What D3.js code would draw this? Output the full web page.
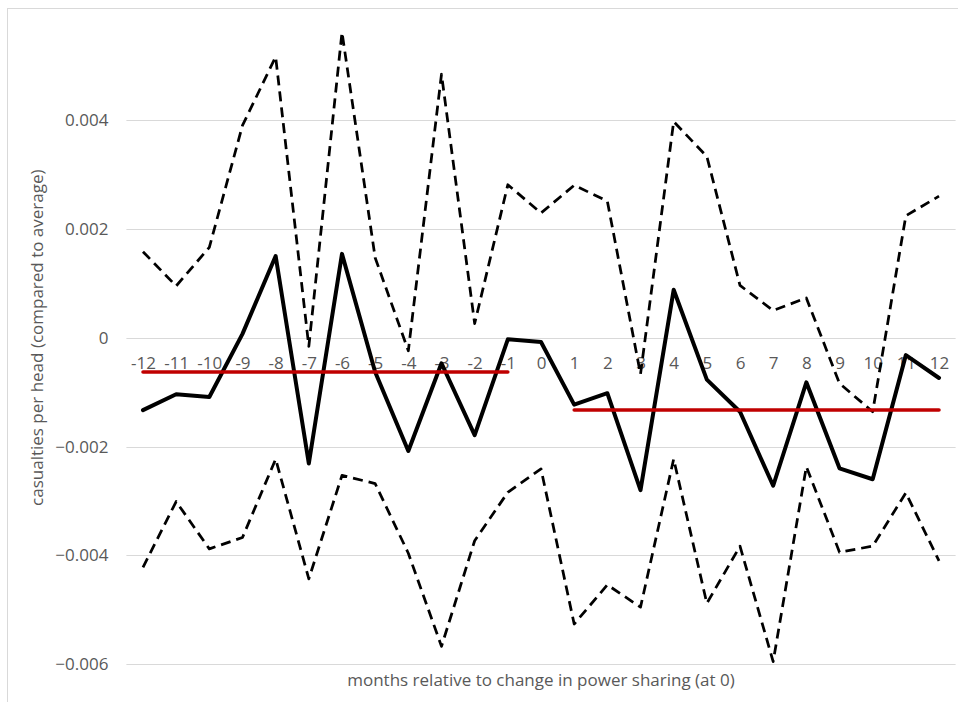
<!DOCTYPE html>
<html>
<head>
<meta charset="utf-8">
<script src="https://cdn.jsdelivr.net/npm/d3@7"></script>
<style>
  html, body { margin: 0; padding: 0; background: #ffffff; }
  svg { display: block; }
  text { font-family: "Open Sans", Lato, sans-serif; fill: #595959; }
</style>
</head>
<body>
<svg id="chart" width="958" height="702"></svg>
<script>
// Months relative to the change in power sharing
const months = ["-12","-11","-10","-9","-8","-7","-6","-5","-4","-3","-2","-1","0",
                "1","2","3","4","5","6","7","8","9","10","11","12"];

// Point estimate of casualties per head (compared to average)
const estimate = [-0.00133,-0.00104,-0.00109,0.00007,0.00150,-0.00231,0.00154,-0.00063,
                  -0.00208,-0.00047,-0.00179,-0.00003,-0.00008,-0.00123,-0.00102,-0.00280,
                  0.00088,-0.00077,-0.00136,-0.00272,-0.00082,-0.00240,-0.00260,-0.00032,-0.00074];

// Upper and lower confidence bounds
const upper = [0.00158,0.00095,0.00166,0.00390,0.00516,-0.00016,0.00561,0.00147,
               -0.00024,0.00484,0.00026,0.00281,0.00229,0.00280,0.00251,-0.00067,
               0.00397,0.00333,0.00096,0.00050,0.00073,-0.00084,-0.00136,0.00224,0.00260];
const lower = [-0.00422,-0.00301,-0.00388,-0.00367,-0.00223,-0.00443,-0.00253,-0.00268,
               -0.00396,-0.00567,-0.00373,-0.00284,-0.00241,-0.00526,-0.00454,-0.00495,
               -0.00223,-0.00488,-0.00383,-0.00595,-0.00237,-0.00394,-0.00383,-0.00285,-0.00410];

// Period averages before and after the change
const meanBefore = -0.00063;
const meanAfter = -0.00133;
const beforeMonths = ["-12","-1"];
const afterMonths = ["1","12"];

const yTicks = [-0.006,-0.004,-0.002,0,0.002,0.004];

const FONT = 17;
const svg = d3.select("#chart");

// Chart frame
svg.append("rect")
  .attr("x", 7.5).attr("y", 8.5)
  .attr("width", 1000).attr("height", 800)
  .attr("fill", "none").attr("stroke", "#d9d9d9").attr("stroke-width", 1);

const plot = { left: 126.4, right: 955.6 };
const x = d3.scalePoint().domain(months).range([plot.left, plot.right]).padding(0.5);
const y = d3.scaleLinear().domain([-0.006, 0.006]).range([664.3, 11.1]);

// Horizontal gridlines
svg.append("g")
  .selectAll("line")
  .data(yTicks)
  .join("line")
  .attr("x1", plot.left).attr("x2", plot.right)
  .attr("y1", d => Math.round(y(d)) + 0.5).attr("y2", d => Math.round(y(d)) + 0.5)
  .attr("stroke", "#d9d9d9").attr("stroke-width", 1);

// Value axis labels
const yAxis = svg.append("g")
  .attr("transform", `translate(${plot.left},0)`)
  .call(d3.axisLeft(y).tickValues(yTicks).tickSize(0).tickPadding(18)
        .tickFormat(d => d === 0 ? "0" : d3.format(".3f")(d)));
yAxis.select(".domain").remove();
yAxis.selectAll("text").attr("font-size", FONT).style("font-family", null).attr("fill", "#595959");

// Category axis labels along the zero line
const xAxis = svg.append("g")
  .attr("transform", `translate(0,${y(0)})`)
  .call(d3.axisBottom(x).tickSize(0).tickPadding(19));
xAxis.select(".domain").remove();
xAxis.selectAll("text").attr("font-size", FONT).style("font-family", null).attr("fill", "#595959");

// Series lines
const line = d3.line()
  .defined(d => d[1] !== null)
  .x(d => x(d[0]))
  .y(d => y(d[1]));

const zip = vals => months.map((m, i) => [m, vals[i]]);

[upper, lower].forEach(vals => {
  svg.append("path")
    .datum(zip(vals))
    .attr("d", line)
    .attr("fill", "none")
    .attr("stroke", "#000")
    .attr("stroke-width", 2.75)
    .attr("stroke-dasharray", "10,6")
    .attr("stroke-linejoin", "round");
});

svg.append("path")
  .datum(zip(estimate))
  .attr("d", line)
  .attr("fill", "none")
  .attr("stroke", "#000")
  .attr("stroke-width", 4)
  .attr("stroke-linejoin", "round")
  .attr("stroke-linecap", "round");

[[beforeMonths, meanBefore], [afterMonths, meanAfter]].forEach(([span, v]) => {
  svg.append("path")
    .datum(span.map(m => [m, v]))
    .attr("d", line)
    .attr("fill", "none")
    .attr("stroke", "#c00000")
    .attr("stroke-width", 3.5)
    .attr("stroke-linecap", "round");
});

// Axis titles
svg.append("text")
  .attr("x", (plot.left + plot.right) / 2)
  .attr("y", 686)
  .attr("text-anchor", "middle")
  .attr("font-size", FONT)
  .text("months relative to change in power sharing (at 0)");

svg.append("text")
  .attr("transform", `translate(43,${y(0)}) rotate(-90)`)
  .attr("text-anchor", "middle")
  .attr("font-size", FONT)
  .text("casualties per head (compared to average)");
</script>
</body>
</html>
